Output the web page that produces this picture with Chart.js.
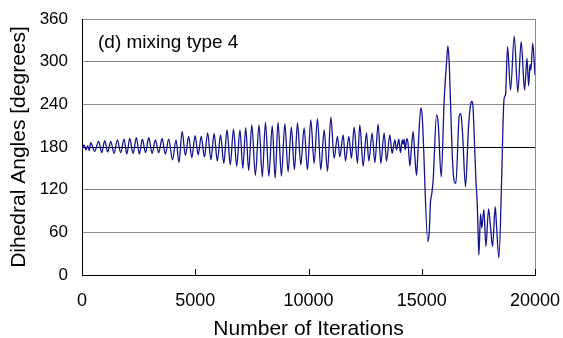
<!DOCTYPE html>
<html>
<head>
<meta charset="utf-8">
<script src="https://cdn.jsdelivr.net/npm/chart.js@4"></script>
<style>
  body { margin: 0; background: #fff; }
  #wrap { width: 563px; height: 338px; position: relative; }
</style>
</head>
<body>
<div id="wrap"><canvas id="my-line-Chart"></canvas></div>
<script>
// iterations (x) and dihedral angle in degrees (y)
const iterations = [
  0, 90, 170, 250, 320, 385, 560, 738, 870, 1003, 1135, 1268, 1415, 1562, 1710, 1857,
  1980, 2107, 2255, 2401, 2535, 2666, 2805, 2946, 3095, 3240, 3390, 3535, 3680, 3829,
  3994, 4153, 4280, 4422, 4565, 4707, 4850, 4993, 5130, 5262, 5405, 5548, 5690, 5833,
  5975, 6118, 6260, 6403, 6546, 6689, 6830, 6974, 7100, 7228, 7360, 7497, 7655, 7814,
  7960, 8100, 8250, 8400, 8527, 8654, 8805, 8955, 9100, 9240, 9380, 9513, 9660, 9807,
  9954, 10102, 10249, 10396, 10543, 10690, 10838, 10985, 11132, 11279, 11382, 11529,
  11632, 11780, 11897, 12015, 12162, 12265, 12413, 12560, 12663, 12810, 12928, 13075,
  13193, 13340, 13443, 13590, 13693, 13811, 13885, 13988, 14060, 14140, 14180, 14220,
  14270, 14340, 14400, 14475, 14548, 14622, 14695, 14769, 14843, 14960, 15019, 15270,
  15328, 15387, 15446, 15505, 15652, 15726, 15858, 15991, 16094, 16153, 16212, 16270,
  16344, 16433, 16506, 16653, 16727, 16800, 16933, 17066, 17154, 17213, 17260, 17290,
  17390, 17449, 17493, 17522, 17596, 17650, 17743, 17832, 17950, 18030, 18126, 18244,
  18300, 18406, 18523, 18597, 18641, 18700, 18788, 18920, 19085, 19240, 19390, 19540,
  19645, 19720, 19780, 19820, 19900, 20000
];
const angles = [
  177, 183, 176, 182, 175, 186, 174, 188, 172, 189, 173, 188, 171, 190, 172, 191,
  170, 192, 171, 193, 170, 191, 172, 193, 171, 190, 172, 192, 170, 191,
  162, 190, 158, 202, 168, 195, 165, 196, 169, 195, 166, 200, 162, 199,
  160, 197, 157, 204, 155, 205, 153, 204, 150, 207, 147, 211, 140, 211,
  138, 215, 139, 210, 136, 215, 139, 213, 145, 208, 148, 214, 155, 207,
  148, 218, 157, 220, 148, 204, 146, 222, 164, 195, 166, 197,
  160, 195, 164, 208, 157, 211, 153, 200, 160, 200, 158, 212,
  157, 200, 160, 197, 171, 190, 176, 191, 172, 190, 184, 191,
  176, 192, 184, 153, 180, 202, 167, 140, 180, 235, 224, 47,
  59, 103, 115, 134, 225, 214, 138, 246, 298, 322, 298, 242,
  171, 132, 129, 223, 227, 200, 124, 209, 239, 244, 238, 218,
  134, 101, 54, 28, 86, 66, 92, 40, 93, 70, 40, 96,
  70, 24, 129, 223, 249, 254, 321, 260, 336, 257, 328, 260,
  305, 266, 296, 288, 326, 281
];
const xTicks = [0, 5000, 10000, 15000, 20000];
const yTicks = [0, 60, 120, 180, 240, 300, 360];
const panelLabel = "(d) mixing type 4";

const FONT = "'Liberation Sans', Arial, sans-serif";

const extras = {
  id: "extras",
  afterDraw(chart) {
    const { ctx, chartArea, scales } = chart;
    ctx.save();
    // inward tick marks on the x axis
    ctx.strokeStyle = "#000";
    ctx.lineWidth = 1;
    xTicks.forEach((v) => {
      const px = Math.round(scales.x.getPixelForValue(v)) + 0.5;
      ctx.beginPath();
      ctx.moveTo(px, chartArea.bottom);
      ctx.lineTo(px, chartArea.bottom - 6);
      ctx.stroke();
    });
    // panel label
    ctx.fillStyle = "#000";
    ctx.font = "19px " + FONT;
    ctx.textBaseline = "middle";
    ctx.fillText(panelLabel, 98, 43);
    ctx.restore();
  },
};

const ctx = document.querySelector("#my-line-Chart");

new Chart(ctx, {
  type: "line",
  data: {
    datasets: [
      {
        data: iterations.map((it, i) => ({ x: it, y: angles[i] })),
        borderColor: "#14148c",
        borderWidth: 1.3,
        pointRadius: 0,
        fill: false,
        cubicInterpolationMode: "monotone",
      },
    ],
  },
  options: {
    responsive: true,
    maintainAspectRatio: false,
    animation: false,
    layout: { padding: { top: 19, right: 28, left: 0, bottom: 0 } },
    plugins: { legend: { display: false }, tooltip: { enabled: false } },
    scales: {
      x: {
        type: "linear",
        min: 0,
        max: 20000,
        afterBuildTicks: (scale) => {
          scale.ticks = xTicks.map((v) => ({ value: v }));
        },
        afterFit: (scale) => {
          scale.height = 63;
          scale.paddingLeft = 0;
          scale.paddingRight = 0;
        },
        ticks: {
          color: "#000",
          padding: 15,
          maxRotation: 0,
          font: { family: FONT, size: 18 },
          callback: (v) => String(v),
        },
        grid: {
          drawTicks: false,
          color: (c) => (c.tick && c.tick.value === 20000 ? "#8c8c8c" : "rgba(0,0,0,0)"),
        },
        border: { color: "#000", width: 1 },
        title: {
          display: true,
          text: "Number of Iterations",
          color: "#000",
          font: { family: FONT, size: 21, lineHeight: 0.8 },
          padding: { top: 0, bottom: 0 },
        },
      },
      y: {
        min: 0,
        max: 360,
        afterBuildTicks: (scale) => {
          scale.ticks = yTicks.map((v) => ({ value: v }));
        },
        afterFit: (scale) => {
          scale.width = 82;
          scale.paddingTop = 0;
          scale.paddingBottom = 0;
        },
        ticks: {
          color: "#000",
          padding: 14,
          font: { family: FONT, size: 17 },
          callback: (v) => String(v),
        },
        grid: {
          drawTicks: false,
          color: (c) => (c.tick && c.tick.value === 180 ? "#000" : "#8c8c8c"),
        },
        border: { color: "#000", width: 1 },
        title: {
          display: true,
          text: "Dihedral Angles [degrees]",
          color: "#000",
          font: { family: FONT, size: 21 },
          padding: { top: 7, bottom: 0 },
        },
      },
    },
  },
  plugins: [extras],
});
</script>
</body>
</html>
